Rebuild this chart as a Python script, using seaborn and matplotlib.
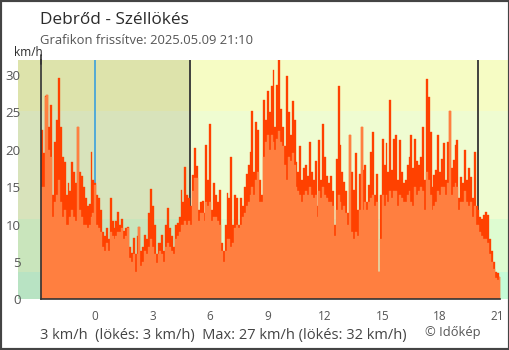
import numpy as np
import pandas as pd
import matplotlib
matplotlib.use("Agg")
import matplotlib.pyplot as plt
from matplotlib.patches import Rectangle
import seaborn as sns

# ---- data: 6-minute wind readings from 21:10 (previous day) to 21:10 ----
start_hour = -2.8333   # 21:10 on the previous day
end_hour = 21.1667     # 21:10
step_hour = 0.1
sunrise_hour = 4.97
sunset_hour = 20.0

gust = [
    22.6, 19.5, 27.2, 27.3, 23, 26, 14, 21, 24, 29.6,
    23, 19, 18.4, 14, 15.5, 14.5, 18.4, 17, 15.5, 23.1,
    17, 16.5, 15, 13.5, 12.5, 12.8, 19.7, 16, 15.5, 14,
    13.5, 12, 9, 8.5, 9.5, 8, 13.5, 10.5, 9.5, 10.5,
    11.7, 10, 10.8, 9.2, 9.5, 9.7, 7, 6.2, 8.2, 6,
    8.5, 9.7, 6.5, 7, 8.6, 8, 11.5, 14.8, 12.5, 10,
    6, 7.5, 7.5, 8.6, 6.5, 9.9, 12.2, 9.5, 8.5, 7,
    10, 10.2, 11, 14.6, 13, 17.7, 14, 13.5, 12.5, 16.6,
    20.2, 17.8, 12, 13, 13.2, 11.5, 20.6, 16, 23.4, 12,
    15.5, 14, 13, 14.6, 7.5, 6.5, 10, 14.2, 13.5, 19,
    10, 14, 13.5, 10, 13.5, 12.5, 15, 16.8, 18, 19.7,
    25.2, 17, 23.7, 22.6, 16, 14, 26.6, 24, 27.8, 25,
    28.5, 30.7, 23, 28.6, 32, 25.5, 23, 20.5, 29.9, 25,
    22, 26.5, 24, 18.4, 17, 20.5, 16, 17.5, 18, 16.5,
    21, 17, 16, 18.5, 12.5, 21.3, 16, 23.5, 19, 16.5,
    15.5, 16.5, 14.5, 10, 18.8, 28.5, 20.6, 17, 15.7, 14.5,
    11.5, 22, 17, 14.6, 19.5, 12, 16.8, 23.1, 17.3, 18,
    13, 15.3, 19.7, 22.4, 14, 16.8, 3.7, 14, 21.5, 18,
    20.9, 17, 26.6, 17.3, 21.5, 22, 16, 21.3, 17, 15.5,
    16, 18, 19, 22, 17.5, 21.5, 18.5, 18, 19, 23.1,
    16, 29.5, 27, 22.4, 15, 16.6, 17.3, 22, 17, 18.8,
    20.9, 16, 21, 25.2, 17.5, 18.6, 20.6, 21.3, 13.5, 16.3,
    15.5, 20, 16, 17.5, 16.3, 13.5, 19.7, 12.5, 12, 11,
    10.8, 11.3, 11.7, 11.3, 8, 6.5, 5, 3.7, 3.5, 3,
]

wind = [
    15, 15, 27.1, 27.3, 20, 19, 11, 13, 14, 16,
    13, 11, 12, 10, 10, 11, 12, 11, 10.5, 23.1,
    12, 11, 10, 10, 9.5, 10, 11, 11.5, 15.3, 10,
    9.5, 9, 7, 6.5, 7.5, 6.5, 9, 8.5, 8, 8.5,
    9, 9, 9.5, 8, 8.5, 9.5, 5.5, 5, 6, 3.6,
    6, 9.7, 4.5, 5, 6.5, 6, 7, 8, 7, 6,
    4.8, 6, 6.5, 6, 5, 7, 7.5, 7, 6.5, 6,
    8, 8.5, 9, 10, 10, 10.5, 10, 10.5, 10, 14.5,
    16.2, 16.2, 10.5, 11.5, 11.5, 10.5, 13, 12.5, 13, 10.5,
    11, 11, 10.5, 10, 6.5, 5, 6.5, 8, 8, 7,
    7.5, 9.5, 10, 9.5, 10, 11, 11.5, 12.5, 13, 14,
    15, 14, 16, 17, 13, 13, 19, 21, 22, 20,
    22, 21, 20, 21.5, 22.5, 21, 20.5, 18, 16, 19,
    18.5, 19.5, 18, 15, 14.5, 14, 13, 14, 14.5, 14,
    15, 14, 13.5, 14, 11, 14.5, 13.5, 15, 14, 13.5,
    13, 13, 12.5, 8.5, 12, 14, 13, 12, 12.5, 11.5,
    10, 22, 9, 8, 9, 8.5, 12, 23.1, 12, 13,
    12, 13, 13.5, 14, 12.5, 13, 3.7, 8, 14, 12.5,
    14, 13, 14.5, 13.5, 14.5, 14.5, 12.5, 14, 13.5, 13,
    13, 14, 14.5, 13, 12.5, 15, 14, 14.5, 15, 14.5,
    12, 17, 16, 14, 12, 12.5, 13, 14.5, 14, 15,
    15, 14, 15.5, 25.2, 14, 15, 15.5, 15, 12, 13,
    13, 14.5, 13, 12.5, 13, 11, 12.5, 10, 10, 9,
    8.5, 8, 8, 7.5, 6, 5, 4, 2.8, 2.6, 3,
]

x_ticks = [start_hour, 0, 3, 6, 9, 12, 15, 18, 21]
x_tick_labels = ["", "0", "3", "6", "9", "12", "15", "18", "21"]
y_ticks = [0, 5, 10, 15, 20, 25, 30]

# wind-strength bands (km/h) with day / night background colours
band_edges = [0, 3.6, 10.8, 25.2, 40]
day_colors = ["#c6fcd7", "#defcd1", "#effcd1", "#f6fcc4"]
night_colors = ["#b8e3c3", "#c9e5bc", "#d8e3bb", "#dde3ab"]

title = "Debrőd - Széllökés"
subtitle = "Grafikon frissítve: 2025.05.09 21:10"
summary = "3 km/h  (lökés: 3 km/h)  Max: 27 km/h (lökés: 32 km/h)"
credit = "© Időkép"

GUST_COLOR = "#ff4100"
WIND_COLOR = "#ff7f40"
TEXT_DARK = "#2b2b2b"
TEXT_GREY = "#555555"
AXIS_COLOR = "#333333"
MIDNIGHT_COLOR = "#2d9be0"

# ---- frame ----
sns.set_style("white")
plt.rcParams["font.family"] = ["Open Sans", "DejaVu Sans"]

W, H = 510, 350
fig = plt.figure(figsize=(W / 100, H / 100), dpi=100)
fig.patch.set_facecolor("white")

x_lo = (18 - 95) / 19.157
x_hi = (509 - 95) / 19.157
ax = fig.add_axes([18 / W, (H - 299.3) / H, (509 - 18) / W, (299.3 - 60) / H])
ax.set_xlim(x_lo, x_hi)
ax.set_ylim(0, 32)
ax.set_facecolor("white")

# background bands, darker before sunrise
night_frac = (sunrise_hour - x_lo) / (x_hi - x_lo)
for lo, hi, dc, nc in zip(band_edges[:-1], band_edges[1:], day_colors, night_colors):
    ax.axhspan(lo, hi, xmin=night_frac, xmax=1, color=dc, lw=0, zorder=0)
    ax.axhspan(lo, hi, xmin=0, xmax=night_frac, color=nc, lw=0, zorder=0)

# midnight, sunrise and sunset markers
ax.axvline(0, color=MIDNIGHT_COLOR, lw=1.1, zorder=1)
ax.axvline(sunrise_hour, color=AXIS_COLOR, lw=1.3, zorder=1)
ax.axvline(sunset_hour, color=AXIS_COLOR, lw=1.3, zorder=1)

# bars: gust behind, mean wind in front
n = len(gust)
edges = [start_hour + step_hour * k for k in range(n + 1)]
df = pd.DataFrame({
    "hour": start_hour + step_hour * (np.arange(n) + 0.5),
    "gust": gust,
    "wind": wind,
})
sns.histplot(data=df, x="hour", weights="gust", bins=edges, ax=ax,
             color=GUST_COLOR, alpha=1, edgecolor=GUST_COLOR, linewidth=0.25,
             zorder=2)
sns.histplot(data=df, x="hour", weights="wind", bins=edges, ax=ax,
             color=WIND_COLOR, alpha=1, edgecolor=WIND_COLOR, linewidth=0.25,
             zorder=3)
ax.set_xlim(x_lo, x_hi)
ax.set_ylim(0, 32)
ax.set_xlabel("")
ax.set_ylabel("")

# axes styling
for side in ["top", "right"]:
    ax.spines[side].set_visible(False)
ax.spines["left"].set_position(("data", start_hour))
ax.spines["left"].set_color(AXIS_COLOR)
ax.spines["left"].set_linewidth(1.2)
ax.spines["left"].set_zorder(5)
ax.spines["bottom"].set_bounds(start_hour, end_hour)
ax.spines["bottom"].set_color(AXIS_COLOR)
ax.spines["bottom"].set_linewidth(1.2)
ax.spines["bottom"].set_zorder(5)
ax.plot([start_hour, start_hour], [31.5, 32.7], color=AXIS_COLOR, lw=1.2,
        clip_on=False, zorder=5)

ax.set_yticks(y_ticks)
ax.set_yticklabels([str(v) for v in y_ticks])
ax.tick_params(axis="y", direction="inout", length=8, width=1.1,
               color=AXIS_COLOR, labelcolor=TEXT_GREY, labelsize=9.5, pad=10.5)
ax.set_xticks(x_ticks)
ax.set_xticklabels(x_tick_labels)
ax.tick_params(axis="x", direction="out", length=5, width=1.1,
               color=AXIS_COLOR, labelcolor=TEXT_GREY, labelsize=8.5, pad=2.5)
ax.xaxis.get_major_ticks()[1].tick1line.set_color(MIDNIGHT_COLOR)
for t in ax.xaxis.get_major_ticks() + ax.yaxis.get_major_ticks():
    t.tick1line.set_zorder(6)

# texts
fig.text(40 / W, 1 - 24 / H, title, fontsize=12.4, color=TEXT_DARK,
         ha="left", va="baseline")
fig.text(40 / W, 1 - 44.5 / H, subtitle, fontsize=9.4, color=TEXT_GREY,
         ha="left", va="baseline")
fig.text(28 / W, 1 - 52 / H, "km/h", fontsize=8.5, color=TEXT_DARK,
         ha="center", va="center")
fig.text(40 / W, 1 - 339.3 / H, summary, fontsize=10.5, color="#444444",
         ha="left", va="baseline")
fig.text(425 / W, 1 - 336 / H, credit, fontsize=9.3, color=TEXT_GREY,
         ha="left", va="baseline")

# outer frame
fig.patches.append(Rectangle((0, 0), 1, 1, transform=fig.transFigure,
                             fill=False, edgecolor="#444444", lw=3,
                             zorder=10))

fig.savefig("out.png", dpi=100)
